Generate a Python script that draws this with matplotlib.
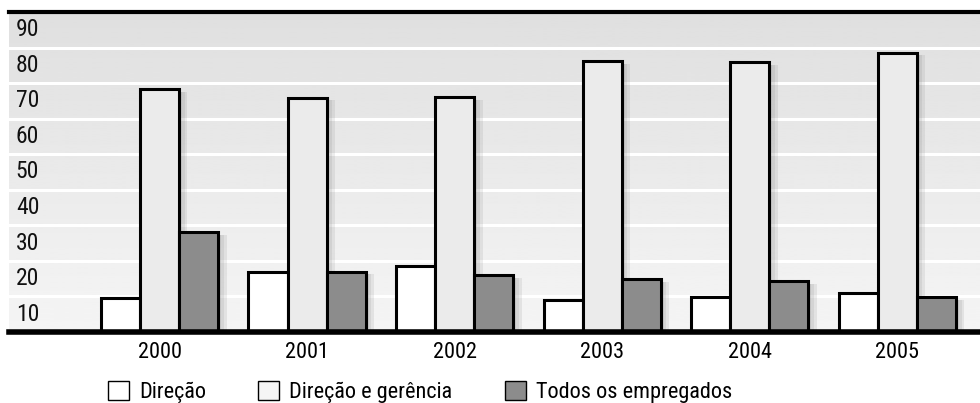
import numpy as np
import matplotlib
matplotlib.use("Agg")
import matplotlib.pyplot as plt
from matplotlib.patches import Patch
from matplotlib import font_manager
import matplotlib.patheffects as pe

"pick a narrow font if one is there"
installed = {f.name for f in font_manager.fontManager.ttflist}
narrow = "DejaVu Sans"
for cand in ["Roboto Condensed", "Archivo Narrow", "PT Sans Narrow", "Liberation Sans Narrow",
             "Asap Condensed", "Barlow Condensed", "Open Sans Condensed", "Roboto"]:
    if cand in installed:
        narrow = cand
        break
plt.rcParams['font.family'] = [narrow, 'DejaVu Sans']

"Data"
years = ["2000", "2001", "2002", "2003", "2004", "2005"]
direcao = [9.7, 17.0, 18.6, 9.0, 9.9, 11.1]
direcao_gerencia = [68.3, 65.9, 66.0, 76.1, 76.0, 78.6]
todos = [28.1, 17.0, 16.0, 14.8, 14.4, 9.9]
series_names = ["Direção", "Direção e gerência", "Todos os empregados"]
series_colors = ["#ffffff", "#ebebeb", "#8c8c8c"]
band_labels = ["10", "20", "30", "40", "50", "60", "70", "80", "90"]

fig = plt.figure(figsize=(9.8, 4.03), dpi=100)
ax = fig.add_axes([9 / 980, 71 / 403, 971 / 980, 320 / 403])

x = np.arange(len(years))
ax.set_xlim(-1.02, 5.56)
ax.set_ylim(0, 90)

"Gradient background"
grad = np.linspace(0.96, 0.875, 256).reshape(-1, 1)
ax.imshow(grad, cmap="gray", vmin=0, vmax=1, aspect="auto",
          extent=[-1.02, 5.56, 0, 90], origin="lower", zorder=0)

for v in range(10, 90, 10):
    ax.axhline(v, color="white", lw=2.2, zorder=1)

"Bars with a soft shadow"
w = 0.265
shadow = [pe.SimplePatchShadow(offset=(o, -2), shadow_rgbFace="#777777", alpha=0.13)
          for o in (2, 4, 6)] + [pe.Normal()]
for i, (vals, col) in enumerate(zip([direcao, direcao_gerencia, todos], series_colors)):
    bars = ax.bar(x + (i - 1) * w, vals, width=w, color=col, edgecolor="black",
                  linewidth=2.2, zorder=2)
    for b in bars:
        b.set_path_effects(shadow)

"Band labels"
for k, lab in enumerate(band_labels):
    ax.text(0.007, (k * 10 + 5) / 90, lab, transform=ax.transAxes, ha="left",
            va="center", fontsize=17, color="#111111", zorder=3)

"Frame"
for s in ax.spines.values():
    s.set_visible(False)
ax.axhline(90, color="black", lw=3, zorder=4, clip_on=False)
ax.axhline(0, color="black", lw=4, zorder=4, clip_on=False)

ax.set_xticks(x)
ax.set_xticklabels(years, fontsize=16)
ax.tick_params(axis="x", length=0, pad=7)
ax.set_yticks([])

handles = [Patch(facecolor=c, edgecolor="black", linewidth=1.0) for c in series_colors]
handles[1].set_facecolor("#f5f5f5")
fig.legend(handles, series_names, loc="center left", bbox_to_anchor=(108 / 980, 11 / 403),
           ncol=3, frameon=False, fontsize=16, handlelength=0.95, handleheight=0.95,
           handletextpad=0.45, columnspacing=2.35, borderpad=0, borderaxespad=0)

fig.savefig("out.png", dpi=100)
